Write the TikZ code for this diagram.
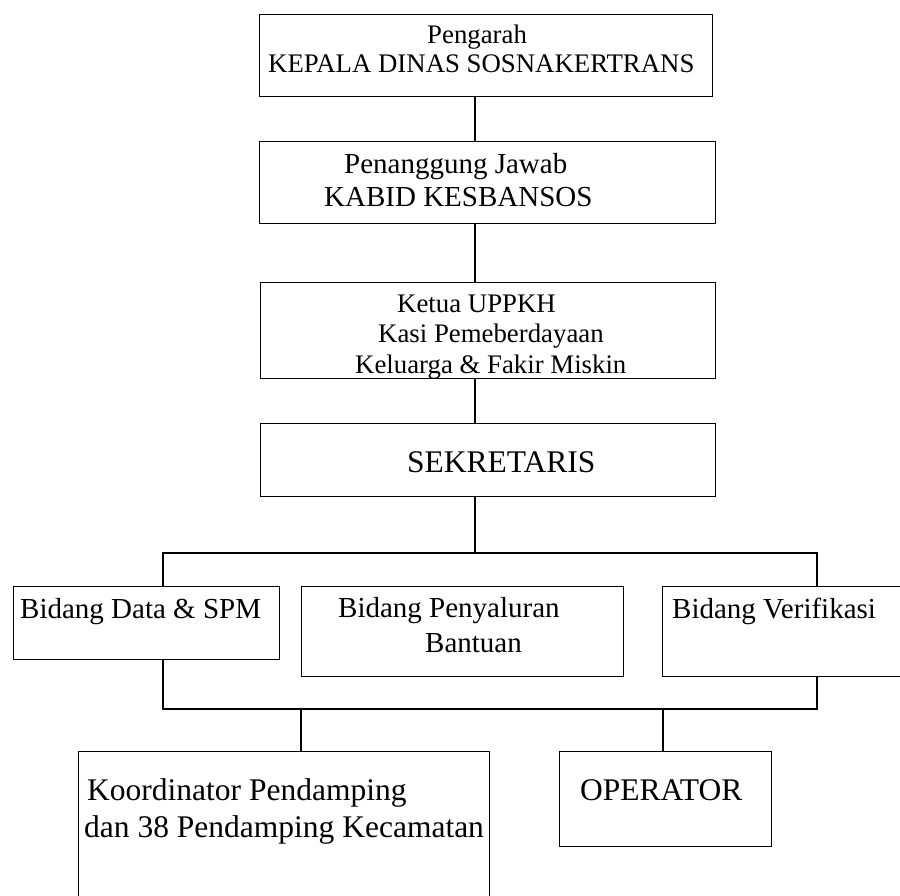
\documentclass[tikz,border=0pt]{standalone}
\usepackage{fontspec}
\setmainfont{Liberation Serif}
\begin{document}
\begin{tikzpicture}[x=1pt, y=-1pt,
    box/.style={draw, line width=1.3pt, rectangle, anchor=north west, inner sep=0pt},
    txt/.style={anchor=base west, inner sep=0pt},
    small/.style={font=\fontsize{26.8}{30}\selectfont},
    mid/.style={font=\fontsize{29}{33}\selectfont},
    big/.style={font=\fontsize{31.5}{36}\selectfont},
    link/.style={line width=1.1pt}]
  \useasboundingbox (0,0) rectangle (900,895);
  \coordinate (spine) at (475,0);
  \coordinate (legL) at (163,0);
  \coordinate (legR) at (817,0);
  \coordinate (dropL) at (301,0);
  \coordinate (dropR) at (663,0);
  \coordinate (topbar) at (0,553);
  \coordinate (botbar) at (0,709);
  % boxes
  \node[box, minimum width=453pt, minimum height=82pt] (pengarah) at (259,14) {};
  \node[box, minimum width=456pt, minimum height=82pt] (pj) at (259,141) {};
  \node[box, minimum width=455pt, minimum height=96pt] (ketua) at (260,282) {};
  \node[box, minimum width=455pt, minimum height=73pt] (sekretaris) at (260,423) {};
  \node[box, minimum width=266pt, minimum height=73pt] (data) at (13,586) {};
  \node[box, minimum width=322pt, minimum height=90pt] (penyaluran) at (301,586) {};
  \node[box, minimum width=260pt, minimum height=90pt] (verifikasi) at (662,586) {};
  \node[box, minimum width=411pt, minimum height=200pt] (koordinator) at (78,751) {};
  \node[box, minimum width=212pt, minimum height=95pt] (operator) at (559,751) {};
  % texts
  \node[txt, small] (pengarah-1) at (427,43) {Pengarah};
  \node[txt, small] (pengarah-2) at (268,72) {KEPALA DINAS SOSNAKERTRANS};
  \node[txt, mid] (pj-1) at (344,173) {Penanggung Jawab};
  \node[txt, mid] (pj-2) at (324,206) {KABID KESBANSOS};
  \node[txt, small] (ketua-1) at (397,312) {Ketua UPPKH};
  \node[txt, small] (ketua-2) at (378,342) {Kasi Pemeberdayaan};
  \node[txt, small] (ketua-3) at (355,373) {Keluarga \& Fakir Miskin};
  \node[txt, big] (sekretaris-1) at (407,472) {SEKRETARIS};
  \node[txt, mid] (data-1) at (20,618) {Bidang Data \& SPM};
  \node[txt, mid] (penyaluran-1) at (338,617) {Bidang Penyaluran};
  \node[txt, mid] (penyaluran-2) at (425,652) {Bantuan};
  \node[txt, mid] (verifikasi-1) at (672,618) {Bidang Verifikasi};
  \node[txt, big] (koordinator-1) at (87,800) {Koordinator Pendamping};
  \node[txt, big] (koordinator-2) at (84,837) {dan 38 Pendamping Kecamatan};
  \node[txt, big] (operator-1) at (580,800) {OPERATOR};
  % connectors
  \draw[link] (pengarah.south -| spine) -- (pj.north -| spine);
  \draw[link] (pj.south -| spine) -- (ketua.north -| spine);
  \draw[link] (ketua.south -| spine) -- (sekretaris.north -| spine);
  \draw[link] (sekretaris.south -| spine) -- (topbar -| spine);
  \draw[link] (data.north -| legL) -- (topbar -| legL) -- (topbar -| legR) -- (verifikasi.north -| legR);
  \draw[link] (data.south -| legL) -- (botbar -| legL) -- (botbar -| legR) -- (verifikasi.south -| legR);
  \draw[link] (botbar -| dropL) -- (koordinator.north -| dropL);
  \draw[link] (botbar -| dropR) -- (operator.north -| dropR);
\end{tikzpicture}
\end{document}
